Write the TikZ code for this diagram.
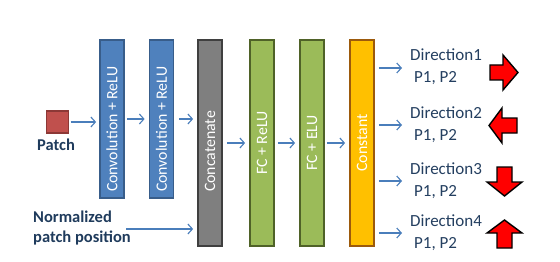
\documentclass[tikz,border=0pt]{standalone}
\usepackage{fontspec}
\usepackage{graphicx}
\setmainfont{Carlito}
\usetikzlibrary{arrows.meta}
\definecolor{convfill}{HTML}{4F81BD}
\definecolor{convdraw}{HTML}{385D8A}
\definecolor{catfill}{HTML}{7F7F7F}
\definecolor{catdraw}{HTML}{3F3F3F}
\definecolor{fcfill}{HTML}{9BBB59}
\definecolor{fcdraw}{HTML}{4F6228}
\definecolor{constfill}{HTML}{FFC000}
\definecolor{constdraw}{HTML}{9C5A0C}
\definecolor{patchfill}{HTML}{C0504D}
\definecolor{patchdraw}{HTML}{8C3836}
\definecolor{arrblue}{HTML}{4A7EBB}
\definecolor{txtdark}{HTML}{243F60}
\definecolor{txtbold}{HTML}{1F3B5C}
\tikzset{
  blk/.style={draw, line width=1.8pt, minimum width=24pt, inner sep=0pt, text=white,
    font=\fontsize{15.8}{18}\selectfont},
  shortblk/.style={blk, minimum height=158pt},
  tallblk/.style={blk, minimum height=206pt},
  blktext/.style={rotate=90, anchor=west, inner sep=0pt, text=white,
    font=\fontsize{15.8}{18}\selectfont},
  conn/.style={draw=arrblue, line width=1.1pt, -{Straight Barb[length=4.5pt,width=10pt,line width=1.1pt]}},
  dirlbl/.style={anchor=west, inner sep=0pt, align=left, text=txtdark,
    font=\fontsize{17}{22}\selectfont},
  boldlbl/.style={text=txtbold, font=\bfseries\fontsize{16.5}{20}\selectfont, inner sep=0pt},
  redarrow/.style={draw=black, fill=red, line width=1.4pt, line join=miter}
}
\begin{document}
\begin{tikzpicture}[x=1pt,y=-1pt]
\useasboundingbox (0,0) rectangle (560,262);
% blocks
\node[shortblk, fill=convfill, draw=convdraw] (c1) at (112,119) {};
\node[blktext] (c1t) at (112,192) {Convolution + ReLU};
\node[shortblk, fill=convfill, draw=convdraw] (c2) at (161.5,119) {};
\node[blktext] (c2t) at (161.5,192) {Convolution + ReLU};
\node[tallblk, fill=catfill, draw=catdraw] (cat) at (210,143) {};
\node[blktext] (catt) at (210,192) {Concatenate};
\node[tallblk, fill=fcfill, draw=fcdraw] (fc1) at (262,143) {\rotatebox{90}{FC + ReLU}};
\node[tallblk, fill=fcfill, draw=fcdraw] (fc2) at (312,143) {\rotatebox{90}{FC + ELU}};
\node[tallblk, fill=constfill, draw=constdraw] (cst) at (362,143) {\rotatebox{90}{Constant}};
% patch
\node[draw=patchdraw, fill=patchfill, line width=1.2pt, minimum size=22pt, inner sep=0pt] (patch) at (57.5,122) {};
\node[boldlbl] (patchlbl) at (56,145) {Patch};
\node[boldlbl, align=left, anchor=west] (norm) at (33,228) {Normalized\\patch position};
\coordinate (nstart) at (126,229);
% direction labels
\node[dirlbl] (d1) at (410,67) {Direction1\\\hspace*{4pt}P1, P2};
\node[dirlbl] (d2) at (410,125) {Direction2\\\hspace*{4pt}P1, P2};
\node[dirlbl] (d3) at (410,181) {Direction3\\\hspace*{4pt}P1, P2};
\node[dirlbl] (d4) at (410,233) {Direction4\\\hspace*{4pt}P1, P2};
% connectors
\draw[conn, shorten <=1.5pt, shorten >=3pt] (patch.east) -- (patch.east -| c1.west);
\draw[conn, shorten <=2.5pt, shorten >=4pt] (c1.east) -- (c1.east -| c2.west);
\draw[conn, shorten <=5pt, shorten >=4pt] (c2.east) -- (c2.east -| cat.west);
\draw[conn, shorten >=4pt] (nstart) -- (nstart -| cat.west);
\draw[conn, shorten <=4pt, shorten >=4pt] (cat.east) -- (fc1.west);
\draw[conn, shorten <=3pt, shorten >=4pt] (fc1.east) -- (fc2.west);
\draw[conn, shorten <=2pt, shorten >=4pt] (fc2.east) -- (cst.west);
\draw[conn, shorten <=4pt, shorten >=8pt] (cst.east |- 0,68) -- (d1.west |- 0,68);
\draw[conn, shorten <=4pt, shorten >=8pt] (cst.east |- d2.west) -- (d2.west);
\draw[conn, shorten <=4pt, shorten >=8pt] (cst.east |- d3.west) -- (d3.west);
\draw[conn, shorten <=4pt, shorten >=8pt] (cst.east |- d4.west) -- (d4.west);
% block arrows
\draw[redarrow] (490,65) -- (503,65) -- (503,55) -- (518,72.5) -- (503,90) -- (503,80) -- (490,80) -- cycle;
\draw[redarrow] (517,118) -- (502,118) -- (502,108) -- (489,125.5) -- (502,143) -- (502,133) -- (517,133) -- cycle;
\draw[redarrow] (497,167) -- (512,167) -- (512,182) -- (522,182) -- (504.5,196) -- (487,182) -- (497,182) -- cycle;
\draw[redarrow] (504.5,220) -- (522,233) -- (512,233) -- (512,248) -- (497,248) -- (497,233) -- (487,233) -- cycle;
\end{tikzpicture}
\end{document}
